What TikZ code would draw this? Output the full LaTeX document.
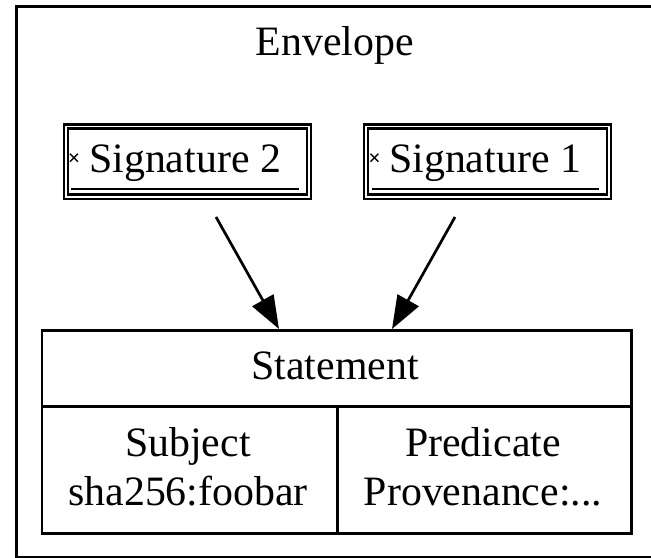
\documentclass[tikz,border=0pt]{standalone}
\usepackage{fontspec}
\setmainfont{Liberation Serif}
\usetikzlibrary{arrows.meta}
\begin{document}
\begin{tikzpicture}[x=1bp,y=-1bp,
  lbl/.style={font=\fontsize{42}{49}\selectfont, anchor=base, inner sep=0pt},
  xmk/.style={font=\fontsize{22}{22}\selectfont\bfseries, inner sep=0pt},
  frame/.style={draw, line width=2.7bp, inner sep=0pt, anchor=north west},
  thin frame/.style={draw, line width=2.4bp, inner sep=0pt, anchor=north west},
  edge/.style={-{Triangle[length=33bp,width=24bp]}, line width=2.7bp},
  uline/.style={line width=2.7bp}
]
\useasboundingbox (0,0) rectangle (651,558);
\fill[white] (0,0) rectangle (651,558);
% Envelope cluster
\node[frame, minimum width=660bp, minimum height=551bp] (env) at (15,5) {};
\node[lbl] (envt) at (335,56) {Envelope};
% Signature 2
\node[thin frame, minimum width=247bp, minimum height=74bp] (sig2o) at (62.5,123.5) {};
\node[thin frame, minimum width=239bp, minimum height=66bp] (sig2i) at (66.5,127.5) {};
\node[xmk] (sig2x) at (74,160) {×};
\node[lbl, anchor=base west] (sig2t) at (89,173) {Signature 2};
\draw[uline] (71,189) -- (299,189);
% Signature 1
\node[thin frame, minimum width=247bp, minimum height=74bp] (sig1o) at (363,123.5) {};
\node[thin frame, minimum width=239bp, minimum height=66bp] (sig1i) at (367,127.5) {};
\node[xmk] (sig1x) at (374.5,160) {×};
\node[lbl, anchor=base west] (sig1t) at (389,173) {Signature 1};
\draw[uline] (372,189) -- (599,189);
% Statement record
\node[frame, minimum width=589.5bp, minimum height=203bp] (stmt) at (40.5,329) {};
\node[frame, minimum width=295.5bp, minimum height=127bp] (subj) at (40.5,405) {};
\node[frame, minimum width=294bp, minimum height=127bp] (pred) at (336,405) {};
\node[lbl] (stmtt) at (335,379) {Statement};
\node[lbl] (subj1) at (188,456) {Subject};
\node[lbl] (subj2) at (188,505) {sha256:foobar};
\node[lbl] (pred1) at (483,456) {Predicate};
\node[lbl] (pred2) at (483,505) {Provenance:...};
% Edges
\coordinate (s2out) at (216,217);
\coordinate (s1out) at (455,217);
\coordinate (in2) at (279,329);
\coordinate (in1) at (392,329);
\draw[edge] (s2out) -- (in2);
\draw[edge] (s1out) -- (in1);
\end{tikzpicture}
\end{document}
